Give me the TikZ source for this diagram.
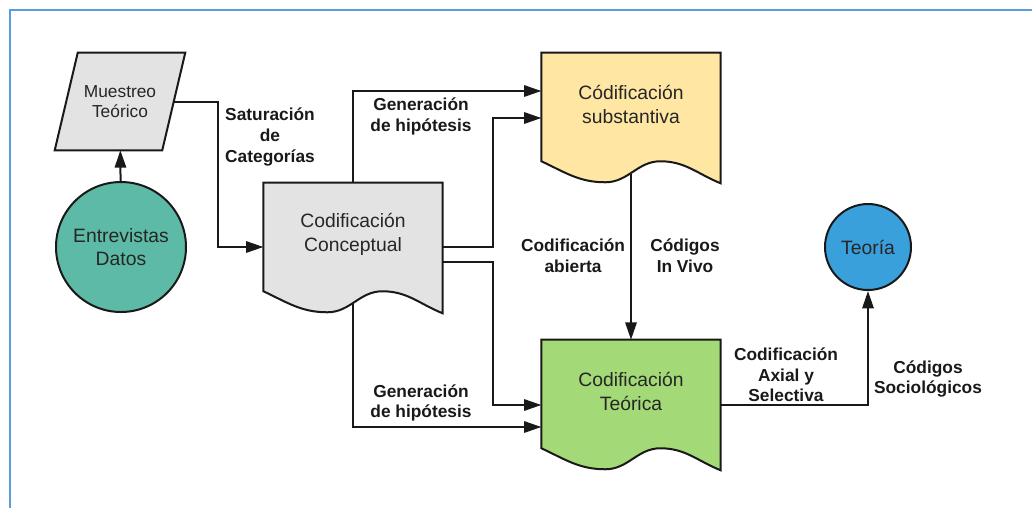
\documentclass[tikz,border=0pt]{standalone}
\usepackage{fontspec}
\setmainfont{Liberation Sans}
\usetikzlibrary{positioning,shapes.geometric,arrows.meta,calc,backgrounds}

\definecolor{framecol}{RGB}{91,157,218}
\definecolor{tealfill}{RGB}{93,186,166}
\definecolor{grayfill}{RGB}{227,227,227}
\definecolor{yellowfill}{RGB}{255,231,163}
\definecolor{greenfill}{RGB}{163,217,119}
\definecolor{bluefill}{RGB}{58,160,220}

\newcommand{\docfill}[2]{%
  \begin{scope}[on background layer]
    \filldraw[line, fill=#2] ($(#1.south east)+(0,28)$) -- (#1.north east) -- (#1.north west)
      -- ($(#1.south west)+(0,6)$) to[out=-25,in=180] ($(#1.south west)+(64,27)$)
      to[out=0,in=180] ($(#1.south west)+(119,6)$) to[out=0,in=158] ($(#1.south east)+(0,28)$) -- cycle;
  \end{scope}}
\newcommand{\slantfill}[2]{%
  \begin{scope}[on background layer]
    \filldraw[line, fill=#2] ($(#1.north west)+(11.5,0)$) -- ($(#1.north east)+(11.5,0)$)
      -- ($(#1.south east)+(-11.5,0)$) -- ($(#1.south west)+(-11.5,0)$) -- cycle;
  \end{scope}}

\begin{document}
\begin{tikzpicture}
[x=0.75pt, y=-0.75pt,
 line/.style={line width=1.5pt, draw=black!90},
 arr/.style={line, -{Triangle[length=13pt,width=8.5pt]}},
 doc/.style={rectangle, minimum width=134pt, minimum height=76.5pt, inner sep=0pt, align=center,
   font=\fontsize{14.5}{18}\selectfont, text=black!85},
 round/.style={circle, line, inner sep=0pt, align=center, font=\fontsize{14.5}{17}\selectfont, text=black!85},
 slant/.style={rectangle, minimum width=80.25pt, minimum height=72.75pt, inner sep=0pt, align=center,
   font=\fontsize{13}{15}\selectfont, text=black!85},
 lbl/.style={align=center, font=\bfseries\fontsize{13}{15.5}\selectfont, text=black!90},
 frame/.style={line width=2pt, draw=framecol}]
\useasboundingbox (0,0) rectangle (1032,508);
\draw[frame] (10,508) -- (10,10) -- (1032,10);

\node[slant] (mue) at (120,101.5) {Muestreo\\Teórico};
\node[round, fill=tealfill, minimum size=97.5pt] (ent) at (121,247) {Entrevistas\\Datos};
\node[doc] (con) at (353,234) {Codificación\\Conceptual};
\node[doc] (sub) at (631,104) {Códificación\\substantiva};
\node[doc] (teo) at (631,391) {Codificación\\Teórica};
\node[round, fill=bluefill, minimum size=64.5pt] (theo) at (868,247) {Teoría};
\slantfill{mue}{grayfill}
\docfill{con}{grayfill}
\docfill{sub}{yellowfill}
\docfill{teo}{greenfill}

\draw[arr] (ent) -- (mue);
\draw[arr] (mue.east) -- (218,101.5) |- ($(con.west)+(0,13)$);
\draw[arr] (con.north) |- ($(sub.west)+(0,-13)$);
\draw[arr] ($(con.east)+(0,13)$) -- ++(50,0) |- ($(sub.west)+(0,14)$);
\draw[arr] ($(con.east)+(0,28)$) -- ++(50,0) |- ($(teo.west)+(0,14)$);
\draw[arr] ($(con.south)+(0,18)$) |- ($(teo.west)+(0,36)$);
\draw[arr] ($(sub.south)+(0,19)$) -- (teo.north);
\draw[arr] ($(teo.east)+(0,14)$) -| (theo.south);

\node[lbl] (sat) at (270,137) {Saturación\\de\\Categorías};
\node[lbl] (gen1) at (421,116.5) {Generación\\de hipótesis};
\node[lbl] (gen2) at (421,403) {Generación\\de hipótesis};
\node[lbl] (abi) at (573,256) {Codificación\\abierta};
\node[lbl] (viv) at (685,256) {Códigos\\In Vivo};
\node[lbl] (axi) at (786,375) {Codificación\\Axial y\\Selectiva};
\node[lbl] (soc) at (928,379) {Códigos\\Sociológicos};
\end{tikzpicture}
\end{document}
